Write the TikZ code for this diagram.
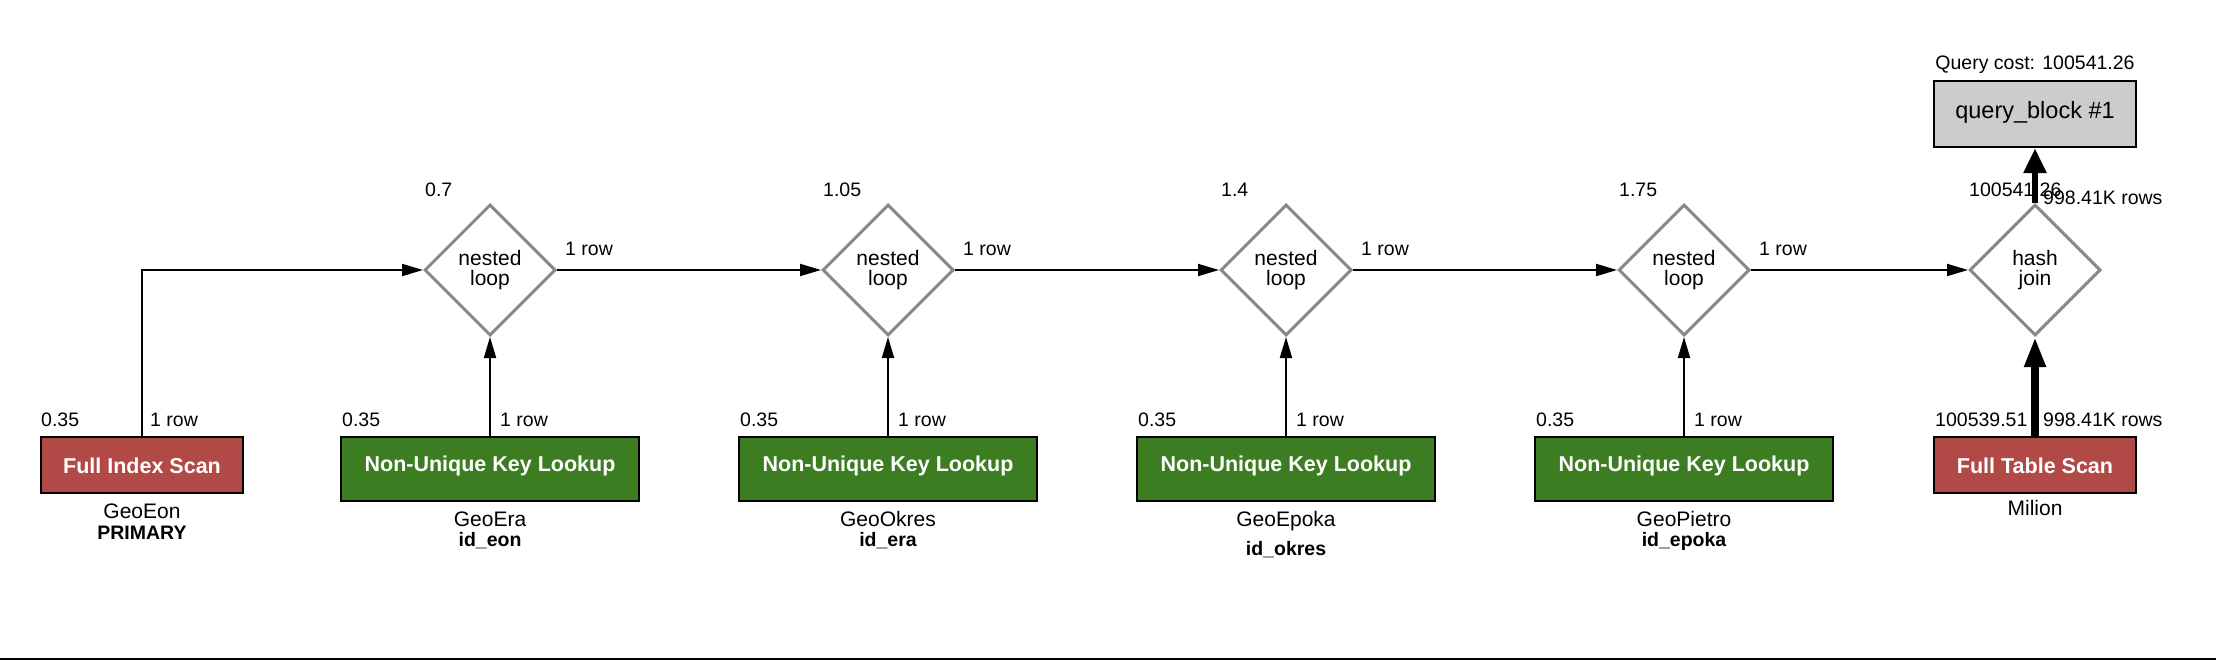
\documentclass[tikz,border=0pt]{standalone}
\usepackage{fontspec}
\setmainfont{Liberation Sans}
\usetikzlibrary{shapes.geometric,arrows.meta}
\definecolor{scanred}{HTML}{B14A47}
\definecolor{lookgreen}{HTML}{3C7D22}
\definecolor{dgray}{HTML}{888888}
\definecolor{qgray}{HTML}{CCCCCC}
\definecolor{baseline}{HTML}{1A1A1A}
\tikzset{
  lbl/.style={inner sep=0pt, font=\fontsize{19.5}{22}\selectfont, anchor=base west},
  sub/.style={inner sep=0pt, font=\fontsize{21}{24}\selectfont, anchor=base},
  subb/.style={inner sep=0pt, font=\bfseries\fontsize{19.5}{22}\selectfont, anchor=base},
  op/.style={diamond, draw=dgray, line width=3pt, fill=white, minimum width=131pt,
    minimum height=131pt, inner sep=0pt, align=center,
    font=\fontsize{21}{20}\selectfont},
  scanbox/.style={rectangle, draw=black, line width=2.5pt, fill=scanred, text=white,
    minimum width=202pt, minimum height=56pt, inner sep=0pt,
    font=\bfseries\fontsize{21.5}{24}\selectfont, text height=16pt, text depth=0pt},
  lookbox/.style={rectangle, draw=black, line width=2.5pt, fill=lookgreen, text=white,
    minimum width=298pt, minimum height=64pt, inner sep=0pt,
    font=\bfseries\fontsize{21.5}{24}\selectfont, text height=16pt, text depth=12pt},
  qbox/.style={rectangle, draw=black, line width=2.5pt, fill=qgray, text=black,
    minimum width=202pt, minimum height=66pt, inner sep=0pt,
    font=\fontsize{23.5}{26}\selectfont, text height=17pt, text depth=7pt},
  conn/.style={line width=2pt, draw=black, -{Triangle[length=21pt,width=12pt]}},
  fatconn/.style={line width=8pt, draw=black, -{Triangle[length=30pt,width=20pt]}},
  midconn/.style={line width=6pt, draw=black, -{Triangle[length=25pt,width=22pt]}},
}
\begin{document}
\begin{tikzpicture}[x=1pt,y=-1pt]
\useasboundingbox (0,0) rectangle (2216,660);
\fill[white] (0,0) rectangle (2216,660);
\draw[line width=2pt, baseline] (0,659) -- (2216,659);

% operation diamonds
\node[op] (d1) at (490,270) {nested\\loop};
\node[op] (d2) at (888,270) {nested\\loop};
\node[op] (d3) at (1286,270) {nested\\loop};
\node[op] (d4) at (1684,270) {nested\\loop};
\node[op] (hj) at (2035,270) {hash\\join};

% table access boxes
\node[scanbox] (fis) at (142,465) {Full Index Scan};
\node[lookbox] (b1) at (490,469) {Non-Unique Key Lookup};
\node[lookbox] (b2) at (888,469) {Non-Unique Key Lookup};
\node[lookbox] (b3) at (1286,469) {Non-Unique Key Lookup};
\node[lookbox] (b4) at (1684,469) {Non-Unique Key Lookup};
\node[scanbox] (fts) at (2035,465) {Full Table Scan};
\node[qbox] (qb) at (2035,114) {query\_block \#1};

% cost labels of operations
\node[lbl] (c1) at (425,197) {0.7};
\node[lbl] (c2) at (823,197) {1.05};
\node[lbl] (c3) at (1221,197) {1.4};
\node[lbl] (c4) at (1619,197) {1.75};
\node[lbl] (c5) at (1969,197) {100541.26};
\node[lbl] (r5) at (2043,205) {998.41K rows};

% connectors
\draw[conn] (fis.north) |- (d1.west);
\draw[conn] (b1.north) -- (d1.south);
\draw[conn] (b2.north) -- (d2.south);
\draw[conn] (b3.north) -- (d3.south);
\draw[conn] (b4.north) -- (d4.south);
\draw[conn] (d1.east) -- (d2.west);
\draw[conn] (d2.east) -- (d3.west);
\draw[conn] (d3.east) -- (d4.west);
\draw[conn] (d4.east) -- (hj.west);
\draw[fatconn] (fts.north) -- (hj.south);
\draw[midconn] (hj.north) -- (qb.south);

% row labels between operations
\node[lbl] (r1) at (565,256) {1 row};
\node[lbl] (r2) at (963,256) {1 row};
\node[lbl] (r3) at (1361,256) {1 row};
\node[lbl] (r4) at (1759,256) {1 row};

% labels above the boxes
\node[lbl] (k0) at (41,426) {0.35};
\node[lbl] (k1) at (342,426) {0.35};
\node[lbl] (k2) at (740,426) {0.35};
\node[lbl] (k3) at (1138,426) {0.35};
\node[lbl] (k4) at (1536,426) {0.35};
\node[lbl] (k5) at (1935,426) {100539.51};
\node[lbl] (w0) at (150,426) {1 row};
\node[lbl] (w1) at (500,426) {1 row};
\node[lbl] (w2) at (898,426) {1 row};
\node[lbl] (w3) at (1296,426) {1 row};
\node[lbl] (w4) at (1694,426) {1 row};
\node[lbl] (w5) at (2043,426) {998.41K rows};

% query cost
\node[inner sep=0pt, font=\fontsize{19.5}{22}\selectfont, anchor=base] (qc) at (2035,70) {Query cost: 100541.26};

% table and key names
\node[sub] (t0) at (142,518) {GeoEon};
\node[subb] (i0) at (142,539) {PRIMARY};
\node[sub] (t1) at (490,526) {GeoEra};
\node[subb] (i1) at (490,546) {id\_eon};
\node[sub] (t2) at (888,526) {GeoOkres};
\node[subb] (i2) at (888,546) {id\_era};
\node[sub] (t3) at (1286,526) {GeoEpoka};
\node[subb] (i3) at (1286,555) {id\_okres};
\node[sub] (t4) at (1684,526) {GeoPietro};
\node[subb] (i4) at (1684,546) {id\_epoka};
\node[sub] (t5) at (2035,515) {Milion};
\end{tikzpicture}
\end{document}
